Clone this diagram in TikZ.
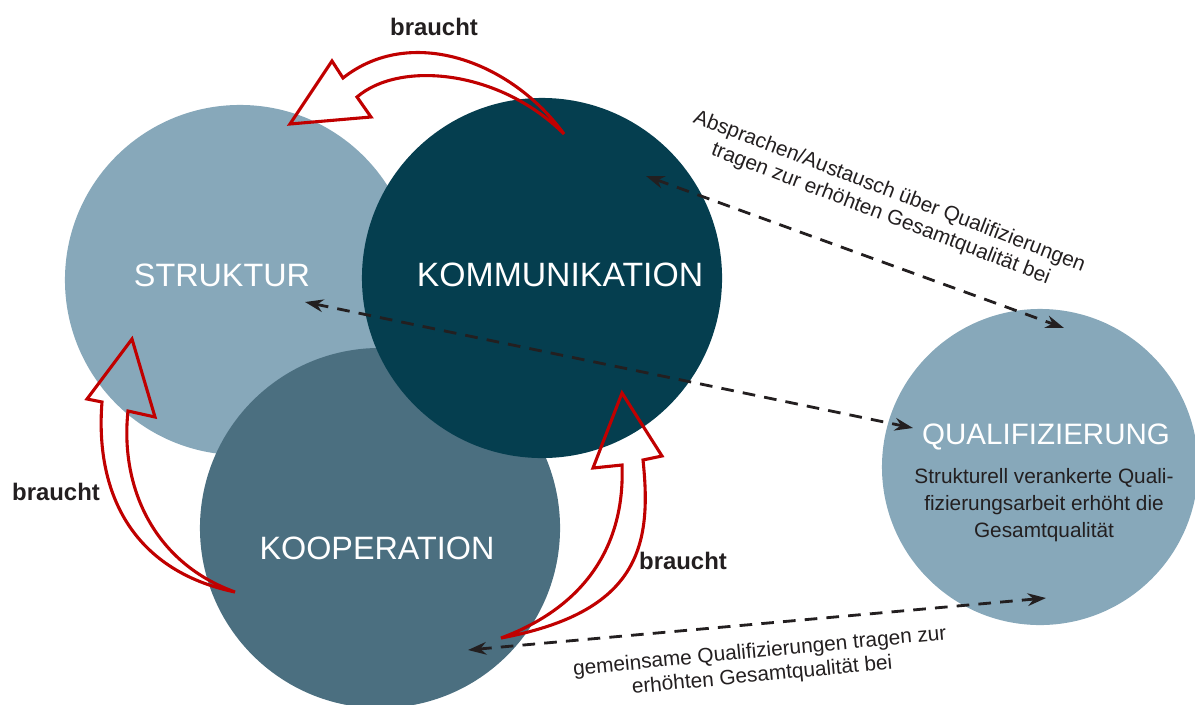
\documentclass[tikz,border=0pt]{standalone}
\usepackage{fontspec}
\setmainfont{Liberation Sans}
\usepackage{xcolor}
\usepackage{tikz}
\usetikzlibrary{shapes.geometric, arrows, arrows.meta, positioning}
\definecolor{hellblau}{HTML}{87A8BA}
\definecolor{dunkelblau}{HTML}{053E4F}
\definecolor{mittelblau}{HTML}{4B6F80}
\definecolor{pfeilrot}{HTML}{C00000}
\definecolor{textgrau}{HTML}{231F20}

\begin{document}
\begin{tikzpicture}[x=0.025cm, y=-0.025cm]
	\tikzstyle{kreis} = [circle, inner sep=0pt]
	\tikzstyle{titel} = [text=white, font=\fontsize{23}{27}\selectfont]
	\tikzstyle{braucht} = [text=textgrau, font=\bfseries\fontsize{17}{20}\selectfont]
	\tikzstyle{hinweis} = [text=textgrau, align=center, font=\fontsize{14.8}{17}\selectfont]
	\tikzstyle{blockpfeil} = [draw=pfeilrot, line width=2.2pt]
	\tikzstyle{austausch} = [<->, >={Stealth[length=13pt,width=9pt]}, dash pattern=on 9pt off 6.5pt, line width=2pt, draw=textgrau]

	\useasboundingbox (0,0) rectangle (1195,704);

	% Kreise
	\node (struktur) [kreis, fill=hellblau, minimum size=8.75cm] at (240,280) {};
	\node (kooperation) [kreis, fill=mittelblau, minimum size=9cm] at (380,528) {};
	\node (kommunikation) [kreis, fill=dunkelblau, minimum size=9cm] at (542,278) {};
	\node (qualifizierung) [kreis, fill=hellblau, minimum size=7.9cm] at (1040,467) {};

	\node (strukturtext) [titel] at (222,275) {STRUKTUR};
	\node (kommtext) [titel, font=\fontsize{24}{28}\selectfont] at (560,275) {KOMMUNIKATION};
	\node (koopertext) [titel] at (377,548) {KOOPERATION};
	\node (qualitext) [titel, font=\fontsize{21}{25}\selectfont] at (1046,437) {QUALIFIZIERUNG};
	\node (qualibeschr) [hinweis, font=\fontsize{14.8}{19}\selectfont] at (1044,505)
		{Strukturell verankerte Quali-\\fizierungsarbeit erhöht die\\Gesamtqualität};

	% rote Pfeile
	\draw [blockpfeil] (290,124) -- (371,117) -- (357,97)
		.. controls (400,60) and (500,70) .. (564,134)
		.. controls (510,60) and (410,25) .. (343,78) -- (332,61) -- cycle;
	\draw [blockpfeil] (132,339) -- (155,417) -- (128,411)
		.. controls (120,485) and (152,562) .. (235,592)
		.. controls (130,570) and (95,490) .. (102,402) -- (87,399) -- cycle;
	\draw [blockpfeil] (622,393) -- (593,468) -- (622,465)
		.. controls (625,540) and (590,605) .. (501,638)
		.. controls (640,612) and (652,545) .. (643,460) -- (662,456) -- cycle;

	\node (braucht1) [braucht] at (434,27) {braucht};
	\node (braucht2) [braucht] at (56,492) {braucht};
	\node (braucht3) [braucht] at (683,561) {braucht};

	% gestrichelte Pfeile
	\coordinate (k1) at (646,176);
	\coordinate (q1) at (1064,328);
	\coordinate (s2) at (305,302);
	\coordinate (q2) at (913,428);
	\coordinate (k3) at (468,650);
	\coordinate (q3) at (1046,598);

	\draw [austausch] (k1) -- (q1);
	\draw [austausch] (s2) -- (q2);
	\draw [austausch] (k3) -- (q3);

	\node (absprachen) [hinweis, rotate=-21] at (885,203)
		{Absprachen/Austausch über Qualifizierungen\\tragen zur erhöhten Gesamtqualität bei};
	\node (gemeinsam) [hinweis, rotate=5.5] at (761,664)
		{gemeinsame Qualifizierungen tragen zur\\erhöhten Gesamtqualität bei};

\end{tikzpicture}
\end{document}
